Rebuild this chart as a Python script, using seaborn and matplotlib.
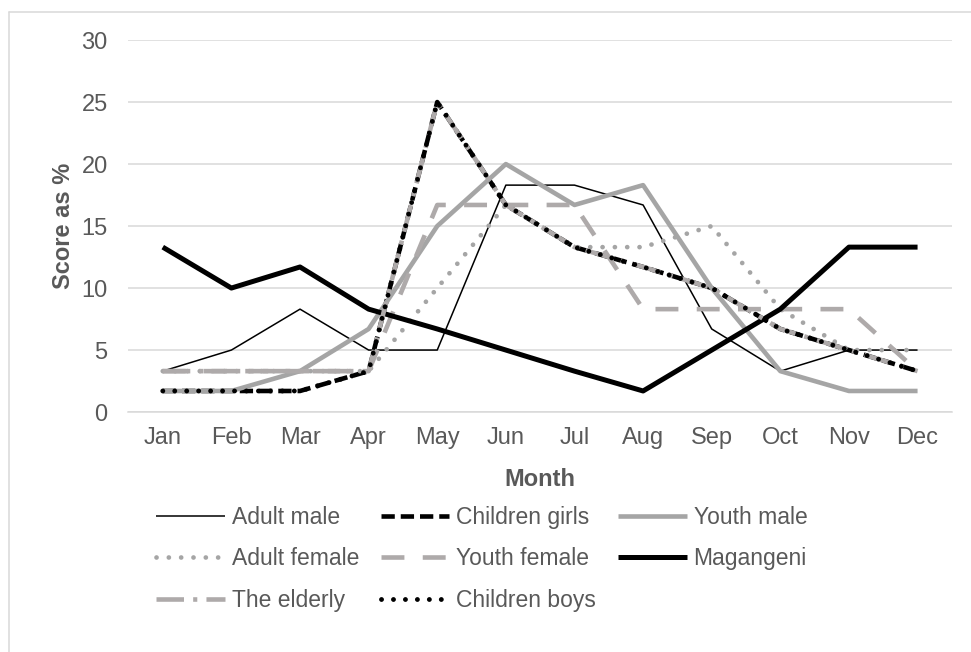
import matplotlib
matplotlib.use("Agg")
import matplotlib.pyplot as plt
import seaborn as sns
import pandas as pd
from matplotlib.lines import Line2D

months = ["Jan", "Feb", "Mar", "Apr", "May", "Jun", "Jul", "Aug", "Sep", "Oct", "Nov", "Dec"]

adult_male = [3.3, 5, 8.3, 5, 5, 18.3, 18.3, 16.7, 6.7, 3.3, 5, 5]
children_girls = [1.7, 1.7, 1.7, 3.3, 25, 16.7, 13.3, 11.7, 10, 6.7, 5, 3.3]
youth_male = [1.7, 1.7, 3.3, 6.7, 15, 20, 16.7, 18.3, 10, 3.3, 1.7, 1.7]
adult_female = [3.3, 3.3, 3.3, 3.3, 10, 16.7, 13.3, 13.3, 15, 8.3, 5, 5]
youth_female = [3.3, 3.3, 3.3, 3.3, 16.7, 16.7, 16.7, 8.3, 8.3, 8.3, 8.3, 3.3]
magangeni = [13.3, 10, 11.7, 8.3, 6.7, 5, 3.3, 1.7, 5, 8.3, 13.3, 13.3]
the_elderly = [3.3, 3.3, 3.3, 3.3, 25, 16.7, 13.3, 11.7, 10, 6.7, 5, 3.3]
children_boys = [1.7, 1.7, 1.7, 3.3, 25, 16.7, 13.3, 11.7, 10, 6.7, 5, 3.3]

df = pd.DataFrame({
    "Month": months,
    "Adult male": adult_male,
    "Children girls": children_girls,
    "Youth male": youth_male,
    "Adult female": adult_female,
    "Youth female": youth_female,
    "Magangeni": magangeni,
    "The elderly": the_elderly,
    "Children boys": children_boys,
})

# series style: colour, width, dash pattern, cap style
styles = {
    "Adult male": ("black", 1.1, "-", "butt"),
    "Children girls": ("black", 3.3, (0, (2.9, 1.3)), "butt"),
    "Youth male": ("#a5a5a5", 3.3, "-", "butt"),
    "Adult female": ("#a5a5a5", 3.4, (0, (0.01, 2.6)), "round"),
    "Youth female": ("#aeaaaa", 3.3, (0, (5.0, 4.0)), "butt"),
    "Magangeni": ("black", 3.6, "-", "butt"),
    "The elderly": ("#aeaaaa", 3.3, (0, (6, 2.0, 0.9, 2.0)), "butt"),
    "Children boys": ("black", 3.5, (0, (0.01, 2.45)), "round"),
}

sns.set_style("white")
plt.rcParams["font.family"] = ["Liberation Sans", "DejaVu Sans"]

text_col = "#595959"
grid_col = "#d9d9d9"

fig = plt.figure(figsize=(9.71, 6.52), dpi=100)
ax = fig.add_axes([0.1323, 0.368, 0.848, 0.5706])

for name, (col, lw, ls, cap) in styles.items():
    sns.lineplot(data=df, x="Month", y=name, ax=ax, color=col, linewidth=lw,
                 linestyle=ls, sort=False, label=name, legend=False)
    line = ax.lines[-1]
    line.set_dash_capstyle(cap)
    line.set_solid_capstyle("butt")
    line.set_solid_joinstyle("round")

ax.set_xlim(-0.5, 11.5)
ax.set_ylim(0, 30)
ax.set_yticks(range(0, 31, 5))
ax.yaxis.grid(True, color=grid_col, linewidth=1.1)
ax.set_axisbelow(True)
for s in ["left", "right", "top"]:
    ax.spines[s].set_visible(False)
ax.spines["bottom"].set_color(grid_col)
ax.spines["bottom"].set_linewidth(1.1)
ax.tick_params(axis="both", length=0, labelsize=17, colors=text_col)
ax.tick_params(axis="x", pad=11)
ax.tick_params(axis="y", pad=15)

ax.set_xlabel("Month", fontsize=17, fontweight="bold", color=text_col)
ax.set_ylabel("Score as %", fontsize=17, fontweight="bold", color=text_col)
ax.xaxis.set_label_coords(0.5, -0.150)
ax.yaxis.set_label_coords(-0.065, 0.5)

handles = {l.get_label(): l for l in ax.lines}
order = ["Adult male", "Adult female", "The elderly",
         "Children girls", "Youth female", "Children boys",
         "Youth male", "Magangeni"]
fig.legend([handles[n] for n in order], order, ncol=3, loc="center",
           bbox_to_anchor=(0.496, 0.143), frameon=False, fontsize=16.5,
           handlelength=3.0, handletextpad=0.3, columnspacing=0.95,
           labelspacing=0.8, labelcolor=text_col)

# chart area border (cropped at right and bottom)
fig.add_artist(Line2D([9 / 971, 1], [1 - 12 / 652, 1 - 12 / 652],
                      transform=fig.transFigure, color=grid_col, linewidth=1.1))
fig.add_artist(Line2D([9 / 971, 9 / 971], [0, 1 - 12 / 652],
                      transform=fig.transFigure, color=grid_col, linewidth=1.1))

fig.savefig("out.png", dpi=100)
